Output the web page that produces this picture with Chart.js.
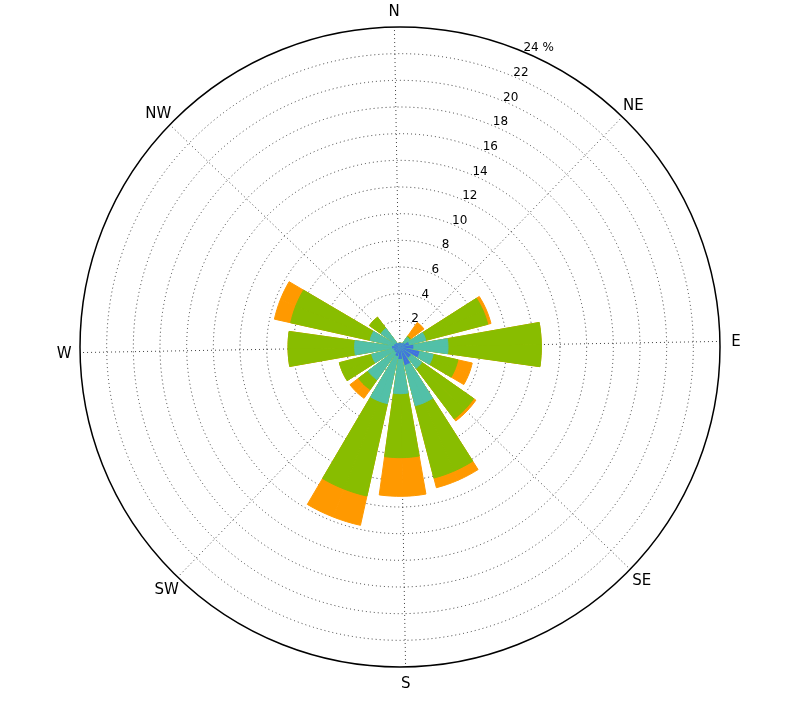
<!DOCTYPE html>
<html>
<head>
<meta charset="utf-8">
<script src="https://cdn.jsdelivr.net/npm/chart.js@4.4.1/dist/chart.umd.min.js"></script>
<style>
  html, body { margin: 0; padding: 0; background: #fff; }
</style>
</head>
<body>
<canvas id="rose" width="800" height="707"></canvas>
<script>
// ==== Data (percent of time, per speed band) ====
const directions = ['N', 'NNE', 'NE', 'ENE', 'E', 'ESE', 'SE', 'SSE', 'S', 'SSW', 'SW', 'WSW', 'W', 'WNW', 'NW', 'NNW'];
const speedBlue   = [0.3, 0.3, 0.4, 0.7, 1.0, 1.5, 1.0, 1.4, 0.9, 0.7, 0.5, 0.5, 0.6, 0.45, 0.4, 0.3];
const speedTeal   = [0, 0, 0.5, 1.3, 2.6, 1.05, 1.0, 3.15, 2.6, 3.65, 2.5, 1.7, 2.8, 1.85, 1.35, 0];
const speedGreen  = [0, 0, 0.1, 4.8, 7.0, 1.9, 4.75, 5.6, 4.8, 7.1, 0.9, 2.5, 5.0, 6.1, 1.05, 0];
const speedOrange = [0, 0, 1.25, 0.25, 0, 1.1, 0.2, 0.75, 2.9, 2.25, 0.8, 0, 0, 1.25, 0, 0];

const axisLabels = ['N', 'NE', 'E', 'SE', 'S', 'SW', 'W', 'NW'];
const ringValues = [2, 4, 6, 8, 10, 12, 14, 16, 18, 20, 22, 24];
const ringLabels = ['2', '4', '6', '8', '10', '12', '14', '16', '18', '20', '22', '24 %'];

// ==== Style ====
const bandColors = ['#4170e0', '#52c0a8', '#88bd00', '#ff9900'];
const rotation = -1;          // the whole rose is turned slightly
const labelAngle = 22.5;      // radial tick labels sit on this bearing
const arcAngles = [9, 4.5, 9]; // right half of a bar, gap, left half of next bar

// cumulative stacks, inner band first
const bands = [speedBlue, speedTeal, speedGreen, speedOrange];
const stacked = [];
let run = directions.map(() => 0);
bands.forEach(b => {
  run = run.map((v, i) => v + b[i]);
  stacked.push(run);
});

// every bar is split in two halves so that bar centres line up with the angle lines
function toArcs(cum) {
  const out = [];
  for (let d = 0; d < cum.length; d++) {
    out.push(cum[d], 0, cum[(d + 1) % cum.length]);
  }
  return out;
}

const arcLabels = [];
directions.forEach(d => arcLabels.push(d, '', ''));

const roseLabels = {
  id: 'roseLabels',
  afterDraw(chart) {
    const s = chart.scales.r;
    const ctx = chart.ctx;
    ctx.save();
    ctx.fillStyle = '#000';
    ctx.font = '15px "DejaVu Sans"';
    ctx.textAlign = 'center';
    ctx.textBaseline = 'middle';
    axisLabels.forEach((lab, k) => {
      const p = s.getPointPosition(k * 6, s.drawingArea + 16);
      ctx.fillText(lab, p.x, p.y + 1);
    });
    ctx.font = '12px "DejaVu Sans"';
    ctx.textAlign = 'left';
    ctx.textBaseline = 'alphabetic';
    const a = labelAngle * Math.PI / 180;
    ringValues.forEach((v, i) => {
      const r = s.getDistanceFromCenterForValue(v);
      ctx.fillText(ringLabels[i], s.xCenter + r * Math.sin(a) + 1, s.yCenter - r * Math.cos(a));
    });
    ctx.restore();
  }
};

const chart = new Chart(document.getElementById('rose'), {
  type: 'polarArea',
  data: {
    labels: arcLabels,
    datasets: stacked.map((cum, k) => ({
      data: toArcs(cum),
      backgroundColor: bandColors[k],
      borderColor: bandColors[k],
      borderWidth: c => (k === 0 || c.dataIndex % 3 === 1 ? 0 : 1),
      angle: c => arcAngles[c.dataIndex % 3]
    }))
  },
  options: {
    responsive: false,
    animation: false,
    layout: { padding: { left: 80, right: 80, top: 27, bottom: 40 } },
    plugins: { legend: { display: false }, tooltip: { enabled: false } },
    scales: {
      r: {
        z: 1,
        min: 0,
        max: 24,
        startAngle: rotation,
        ticks: { display: false, stepSize: 2 },
        pointLabels: { display: false },
        grid: {
          circular: true,
          color: c => (c.tick && c.tick.value === 24 ? '#000' : 'rgba(0,0,0,0.75)'),
          lineWidth: c => (c.tick && c.tick.value === 24 ? 1.5 : 1)
        },
        border: { dash: c => (c.tick && c.tick.value === 24 ? [] : [1, 3]) },
        angleLines: {
          display: true,
          color: 'rgba(0,0,0,0.75)',
          lineWidth: c => (c.index % 6 === 0 ? 1 : 0),
          borderDash: [1, 3]
        }
      }
    }
  },
  plugins: [roseLabels]
});
</script>
</body>
</html>
